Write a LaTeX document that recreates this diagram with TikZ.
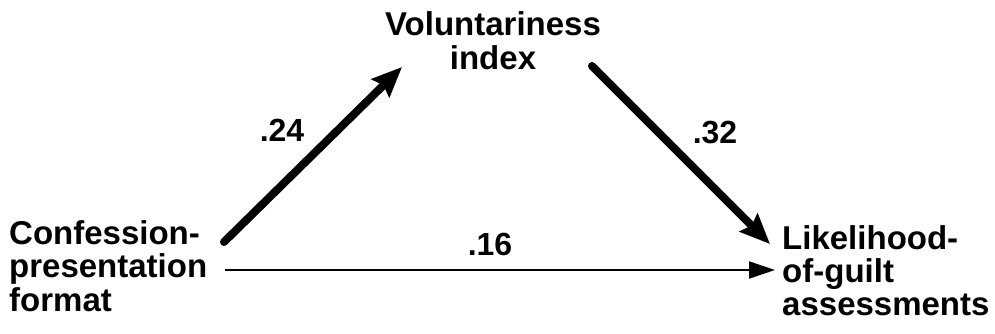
\documentclass[tikz,border=0pt]{standalone}
\usepackage{fontspec}
\setmainfont{Liberation Sans}
\usetikzlibrary{arrows.meta}
\tikzset{
  lbl/.style={inner sep=0pt, font=\bfseries\fontsize{33}{32.5}\selectfont},
  coef/.style={inner sep=0pt, anchor=base, font=\bfseries\fontsize{32}{32}\selectfont},
  thick path/.style={line width=8pt, line cap=round, -{Stealth[length=30pt,width=25pt,inset=4pt]}},
  thin path/.style={line width=2pt, -{Triangle[length=26pt,width=17pt]}}
}
\begin{document}
\begin{tikzpicture}[x=1pt,y=-1pt]
\useasboundingbox (0,0) rectangle (995,334);
\node[lbl, anchor=base] (vol) at (493,36) {\begin{tabular}[t]{@{}c@{}}Voluntariness\\index\end{tabular}};
\node[lbl, anchor=base west] (conf) at (9,244) {\begin{tabular}[t]{@{}l@{}}Confession-\\presentation\\format\end{tabular}};
\node[lbl, anchor=base west] (lik) at (782,249) {\begin{tabular}[t]{@{}l@{}}Likelihood-\\of-guilt\\assessments\end{tabular}};
\coordinate (a1s) at (224,242);
\coordinate (a1e) at (402,67);
\coordinate (a2s) at (592,66);
\coordinate (a2e) at (770,244);
\coordinate (a3s) at (225,270);
\coordinate (a3e) at (775,270);
\draw[thick path] (a1s) -- (a1e);
\draw[thick path] (a2s) -- (a2e);
\draw[thin path] (a3s) -- (a3e);
\node[coef] (c24) at (282,142) {.24};
\node[coef] (c32) at (715,143) {.32};
\node[coef] (c16) at (490,255) {.16};
\end{tikzpicture}
\end{document}
